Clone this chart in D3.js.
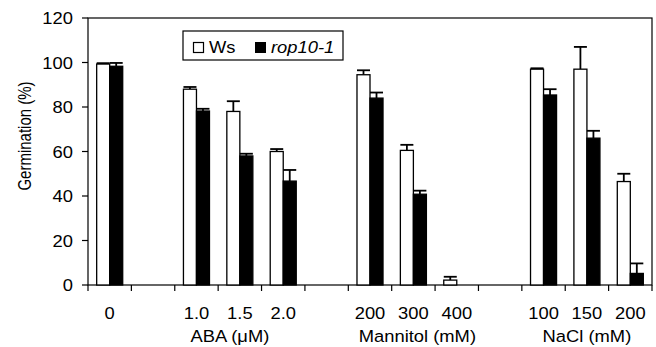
<!DOCTYPE html>
<html>
<head>
<meta charset="utf-8">
<script src="https://cdn.jsdelivr.net/npm/d3@7"></script>
<style>
  body { margin: 0; background: #fff; }
  svg { display: block; font-family: Arial, "Liberation Sans", sans-serif; }
</style>
</head>
<body>
<svg id="chart" width="656" height="347"></svg>
<script>
// slots along the x axis; gaps are empty slots between treatment groups
const categories = ['0', 'gap1', 'A1.0', 'A1.5', 'A2.0', 'gap2', 'M200', 'M300', 'M400', 'gap3', 'N100', 'N150', 'N200'];
const catLabels  = ['0', '', '1.0', '1.5', '2.0', '', '200', '300', '400', '', '100', '150', '200'];
const series = ['Ws', 'rop10-1'];
const wsValues  = [99.3, null, 88, 78, 60, null, 94.5, 60.5, 2.2, null, 97, 97, 46.5];
const wsErrors  = [0.4, null, 1, 4.6, 1.1, null, 2, 2.5, 1.5, null, 0.4, 10, 3.5];
const ropValues = [98.3, null, 78.2, 58, 46.7, null, 84, 40.8, 0, null, 85.4, 66, 5.2];
const ropErrors = [1.5, null, 1, 1, 5, null, 2.5, 1.6, 0, null, 2.6, 3.3, 4.5];
const groupLabels = [
    { text: 'ABA (\u03bcM)', at: 'A1.5', dx: -10 },
    { text: 'Mannitol (mM)', at: 'M300', dx: 4 },
    { text: 'NaCl (mM)', at: 'N150', dx: 0 }
];
const yTicks = [0, 20, 40, 60, 80, 100, 120];

const svg = d3.select('#chart');
const m = { left: 88, right: 652, top: 18, bottom: 285 };
const FS = 17;        // font size
const SX = 1.08;      // the original picture is stretched sideways a bit

const x = d3.scaleBand().domain(categories).range([m.left, m.right])
    .paddingInner(0.4).paddingOuter(0.2);
const xs = d3.scaleBand().domain(series).range([0, x.bandwidth()]);
const y = d3.scaleLinear().domain([0, 120]).range([m.bottom, m.top]);
const slotLeft = c => x(c) - x.step() * 0.2;

function label(g, tx, ty, str, anchor) {
    return g.append('text')
        .attr('transform', `translate(${tx},${ty}) scale(${SX},1)`)
        .attr('text-anchor', anchor || 'start')
        .attr('font-size', FS + 'px')
        .text(str);
}

// frame
svg.append('rect')
    .attr('x', m.left).attr('y', m.top)
    .attr('width', m.right - m.left).attr('height', m.bottom - m.top)
    .attr('fill', 'none').attr('stroke', '#000').attr('stroke-width', 1.2);

// y axis ticks + labels
const gy = svg.append('g');
yTicks.forEach(t => {
    gy.append('line')
        .attr('x1', m.left - 6).attr('x2', m.left)
        .attr('y1', y(t)).attr('y2', y(t))
        .attr('stroke', '#000').attr('stroke-width', 1.2);
    label(gy, m.left - 15, y(t) + 6, t, 'end');
});

svg.append('text')
    .attr('transform', `translate(30.5,136) scale(1.25,1) rotate(-90)`)
    .attr('text-anchor', 'middle').attr('font-size', '15px')
    .text('Germination (%)');

// x axis ticks at slot boundaries
const gx = svg.append('g');
categories.concat(['end']).forEach((c, i) => {
    const xx = i < categories.length ? slotLeft(c) : m.right;
    gx.append('line')
        .attr('x1', xx).attr('x2', xx)
        .attr('y1', m.bottom).attr('y2', m.bottom + 6)
        .attr('stroke', '#000').attr('stroke-width', 1.2);
});
categories.forEach((c, i) => {
    if (!catLabels[i]) return;
    label(gx, x(c) + x.bandwidth() / 2, 319, catLabels[i], 'middle');
});
groupLabels.forEach(g => {
    label(gx, x(g.at) + x.bandwidth() / 2 + g.dx, 342, g.text, 'middle');
});

// bars + upward error bars
const rows = [
    { key: 'Ws', values: wsValues, errors: wsErrors, fill: '#fff' },
    { key: 'rop10-1', values: ropValues, errors: ropErrors, fill: '#000' }
];
const gb = svg.append('g');
rows.forEach(s => {
    categories.forEach((c, i) => {
        const v = s.values[i];
        if (v == null || v <= 0) return;
        const bx = x(c) + xs(s.key);
        const bw = xs.bandwidth();
        const e = s.errors[i];
        const cx = bx + bw / 2;
        gb.append('line')
            .attr('x1', cx).attr('x2', cx)
            .attr('y1', y(v)).attr('y2', y(v + e))
            .attr('stroke', '#000').attr('stroke-width', 1.8);
        gb.append('line')
            .attr('x1', cx - 6.5).attr('x2', cx + 6.5)
            .attr('y1', y(v + e)).attr('y2', y(v + e))
            .attr('stroke', '#000').attr('stroke-width', 1.8);
        gb.append('rect')
            .attr('x', bx).attr('y', y(v))
            .attr('width', bw).attr('height', y(0) - y(v))
            .attr('fill', s.fill).attr('stroke', '#000').attr('stroke-width', 1.3);
    });
});

// legend
const lg = svg.append('g');
lg.append('rect')
    .attr('x', 183).attr('y', 31).attr('width', 160).attr('height', 29)
    .attr('fill', '#fff').attr('stroke', '#000').attr('stroke-width', 1.2);
lg.append('rect')
    .attr('x', 193.5).attr('y', 42.5).attr('width', 10).attr('height', 10)
    .attr('fill', '#fff').attr('stroke', '#000').attr('stroke-width', 1.2);
label(lg, 209, 52.5, 'Ws');
lg.append('rect')
    .attr('x', 255).attr('y', 42).attr('width', 11).attr('height', 11)
    .attr('fill', '#000');
label(lg, 271, 52.5, 'rop10-1').attr('font-style', 'italic');
</script>
</body>
</html>
